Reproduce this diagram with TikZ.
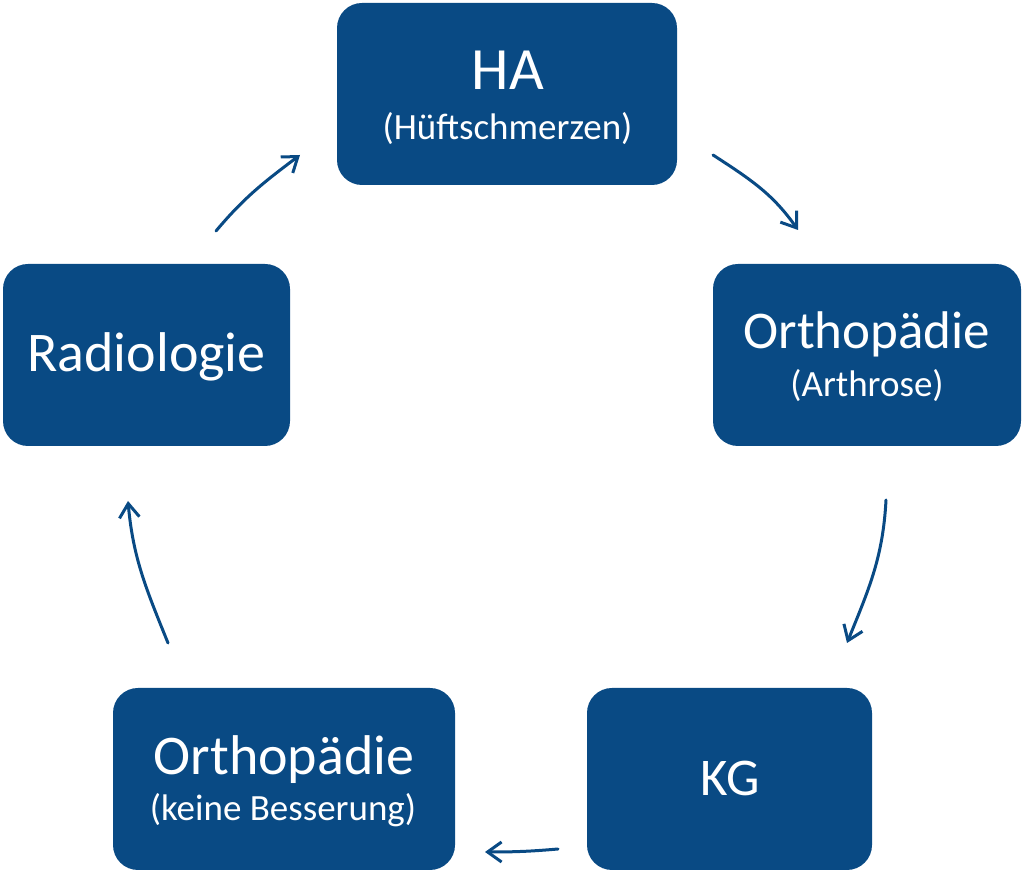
\documentclass[tikz,border=0pt]{standalone}
\usepackage{fontspec}
\setmainfont{Carlito}
\usetikzlibrary{arrows.meta}
\definecolor{boxblue}{RGB}{9,74,132}
\tikzset{
  x=1pt, y=1pt,
  stationbox/.style={fill=boxblue, draw=none, rounded corners=25pt, inner sep=0pt},
  maintext/.style={anchor=base, text=white, inner sep=0pt, font=\fontsize{53}{60}\selectfont},
  bigtext/.style={maintext, font=\fontsize{56}{63}\selectfont},
  subtext/.style={anchor=base, text=white, inner sep=0pt, font=\fontsize{37}{42}\selectfont},
  flow/.style={draw=boxblue, line width=3pt, line cap=round,
    -{Straight Barb[length=14pt, width=20pt, line width=3pt]}},
}
\begin{document}
\begin{tikzpicture}
\useasboundingbox (0,0) rectangle (1023,872);

% station boxes
\node[stationbox, minimum width=340pt, minimum height=182pt] (ha) at (507,778) {};
\node[stationbox, minimum width=308pt, minimum height=182pt] (orthoA) at (867,517) {};
\node[stationbox, minimum width=285pt, minimum height=182pt] (kg) at (729.5,93) {};
\node[stationbox, minimum width=342pt, minimum height=182pt] (orthoB) at (284,93) {};
\node[stationbox, minimum width=287pt, minimum height=182pt] (rad) at (146.5,517) {};

% labels
\node[maintext, font=\fontsize{60}{67}\selectfont] (haT) at (508,782) {HA};
\node[subtext] (haS) at (507.5,732) {(Hüftschmerzen)};
\node[maintext] (orthoAT) at (867,523) {Orthopädie};
\node[subtext] (orthoAS) at (867,475) {(Arthrose)};
\node[maintext] (kgT) at (730,76) {KG};
\node[bigtext] (orthoBT) at (284,97) {Orthopädie};
\node[subtext] (orthoBS) at (283,51) {(keine Besserung)};
\node[bigtext] (radT) at (146.5,500) {Radiologie};

% arrow end points
\coordinate (a1s) at (216,641);  \coordinate (a1e) at (300,717);
\coordinate (a2s) at (713,717);  \coordinate (a2e) at (798,642);
\coordinate (a3s) at (886,372);  \coordinate (a3e) at (847,229);
\coordinate (a4s) at (558,23);   \coordinate (a4e) at (485,20);
\coordinate (a5s) at (168,229);  \coordinate (a5e) at (128,371);

% cycle arrows
\draw[flow] (a1s) to[out=50, in=217] (a1e);
\draw[flow] (a2s) to[out=-33, in=125] (a2e);
\draw[flow] (a3s) to[out=-93, in=68] (a3e);
\draw[flow] (a4s) to[out=185, in=0] (a4e);
\draw[flow] (a5s) to[out=112, in=-85] (a5e);
\end{tikzpicture}
\end{document}
